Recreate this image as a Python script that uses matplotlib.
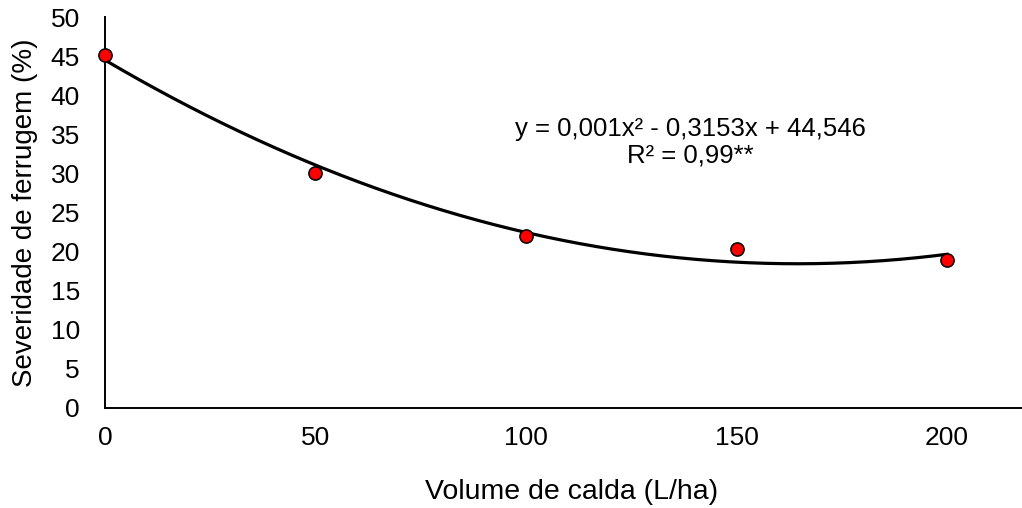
import matplotlib
matplotlib.use("Agg")

import matplotlib.pyplot as plt
import numpy as np

plt.rcParams["font.family"] = ["Liberation Sans", "DejaVu Sans"]

# Data
volume = [0, 50, 100, 150, 200]
severidade = [45.1, 30.0, 22.0, 20.3, 18.9]
x_ticks = [0, 50, 100, 150, 200]
y_ticks = [0, 5, 10, 15, 20, 25, 30, 35, 40, 45, 50]

fig = plt.figure(figsize=(10.22, 5.08), dpi=100)
ax = fig.add_axes([0.1027, 0.197, 0.8973, 0.7695])

# Quadratic trend line fitted to the points
coef = np.polyfit(volume, severidade, 2)
xs = np.linspace(min(volume), max(volume), 200)
ax.plot(xs, np.polyval(coef, xs), color="black", linewidth=2.3, zorder=2)

ax.plot(volume, severidade, linestyle="none", marker="o", markersize=9.5,
        markerfacecolor="#ff0000", markeredgecolor="black",
        markeredgewidth=1.1, zorder=3, clip_on=False)

ax.text(139, 34.0, "y = 0,001x² - 0,3153x + 44,546\nR² = 0,99**",
        ha="center", va="center", fontsize=18.5, linespacing=1.1)

ax.set_xlim(0, 217.8)
ax.set_ylim(0, 50)
ax.set_xticks(x_ticks)
ax.set_yticks(y_ticks)
ax.tick_params(axis="both", length=0, labelsize=19)
ax.tick_params(axis="x", pad=13)
ax.tick_params(axis="y", pad=18)

for side in ["top", "right"]:
    ax.spines[side].set_visible(False)
for side in ["left", "bottom"]:
    ax.spines[side].set_linewidth(1.4)

ax.set_xlabel("Volume de calda (L/ha)", fontsize=20.5, labelpad=21)
ax.xaxis.label.set_x(0.5087)
ax.set_ylabel("Severidade de ferrugem (%)", fontsize=20, labelpad=9)

fig.savefig("out.png", dpi=100)
